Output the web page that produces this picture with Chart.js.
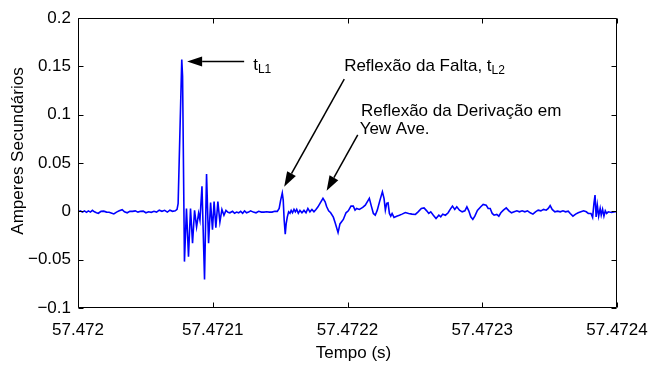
<!DOCTYPE html>
<html>
<head>
<meta charset="utf-8">
<script src="https://cdn.jsdelivr.net/npm/chart.js@4.4.1/dist/chart.umd.min.js"></script>
<style>
  html, body { margin: 0; padding: 0; background: #fff; }
  #wrap { width: 649px; height: 365px; }
</style>
</head>
<body>
<div id="wrap"><canvas id="chart"></canvas></div>
<script>
// time origin (s) and samples as microsecond offsets from it
const T0 = 57.472;

const timeUs = [
  0, 1.8, 3.3, 4.8, 6.3, 7.7, 9.2, 10.7, 12.2, 13.7,
  15.1, 17.1, 19.1, 21.2, 23.1, 25.1, 26.6, 28.6, 30.6, 32.8,
  34.5, 36.5, 38.5, 40.5, 42.5, 44.5, 46.4, 48.4, 50.4, 52.4,
  54.4, 56.4, 58.3, 60.3, 62.3, 64.3, 66.3, 68.2, 70.2, 72.2,
  73.5, 74.3, 77.0, 77.6, 79.0, 80.5, 82.0, 83.5, 85.0, 86.5,
  88.0, 89.5, 90.5, 92.0, 93.9, 95.4, 96.9, 98.4, 99.8, 101.0,
  102.3, 103.8, 105.3, 106.8, 108.3, 109.8, 111.3, 112.7, 114.7, 116.2,
  117.7, 119.2, 120.7, 122.2, 123.6, 125.1, 126.6, 128.1, 130.1, 132.1,
  134.1, 136.1, 138.0, 140.0, 142.0, 144.0, 146.0, 147.9, 149.3, 150.4,
  151.6, 152.3, 153.0, 153.8, 154.5, 155.3, 156.3, 157.3, 158.2, 159.2,
  160.3, 161.3, 162.3, 163.5, 164.7, 166.2, 167.7, 169.2, 170.6, 172.1,
  173.6, 175.1, 176.6, 178.1, 179.6, 181.8, 183.4, 184.5, 186.0, 187.5,
  189.5, 190.9, 193.0, 194.4, 196.9, 198.9, 200.6, 202.6, 204.3, 205.6,
  206.8, 208.8, 211.3, 213.2, 215.2, 216.2, 217.7, 219.2, 220.6, 222.1,
  224.1, 225.9, 227.1, 228.1, 229.1, 230.1, 231.1, 232.1, 233.1, 234.5,
  236.5, 238.5, 240.5, 242.9, 245.4, 247.9, 250.4, 252.4, 254.8, 256.8,
  258.8, 260.3, 261.8, 263.7, 265.7, 267.8, 269.2, 270.7, 272.7, 274.7,
  276.2, 277.9, 279.6, 281.1, 283.1, 285.1, 287.1, 288.6, 290.0, 291.5,
  293.0, 294.5, 296.4, 298.9, 300.7, 302.9, 304.4, 305.9, 307.4, 308.8,
  310.8, 312.3, 313.8, 315.7, 317.8, 319.8, 321.7, 323.7, 325.7, 327.6,
  329.6, 331.6, 333.6, 335.6, 337.6, 339.5, 341.5, 343.5, 345.5, 347.5,
  349.0, 350.4, 351.9, 353.9, 355.9, 357.9, 359.9, 361.8, 363.8, 365.3,
  367.3, 369.3, 371.2, 373.2, 375.2, 377.2, 378.7, 380.7, 381.9, 382.9,
  383.7, 384.5, 385.4, 386.4, 387.5, 388.3, 389.3, 390.3, 391.3, 392.3,
  393.5, 396.0, 398.5, 400.0
];

const amps = [
  -0.0005, 0.0005, -0.0008, 0.0005, -0.001, 0.0005, -0.0008, 0.001, -0.0005, -0.0015,
  -0.002, 0, 0.0002, -0.0008, -0.001, -0.002, -0.0027, -0.0008, 0.0005, 0.0017,
  -0.0005, -0.0015, 0, 0, 0.0005, -0.0008, 0, 0.0002, -0.0015, -0.0005,
  -0.001, 0, -0.0008, 0.0012, 0, 0.001, -0.0008, 0.0012, 0, 0.0005,
  0.002, 0.008, 0.157, 0.14, -0.052, 0.003, -0.047, 0.003, -0.033, 0.001,
  -0.016, -0.002, -0.009, 0.026, -0.0706, 0.0385, -0.033, 0.009, -0.019, 0.010,
  -0.017, 0.010, -0.011, 0.002, -0.004, 0.001, -0.001, -0.0015, 0, -0.002,
  -0.0008, -0.0015, 0, -0.002, 0.0005, -0.0015, -0.0008, 0.0005, -0.0008, -0.0015,
  0, -0.0008, -0.0008, -0.0005, -0.0008, -0.0008, 0, 0, 0.003, 0.0116,
  0.019, 0.0116, -0.009, -0.0236, -0.0126, -0.006, -0.0005, -0.002, 0.001, -0.0015,
  0.002, -0.0005, 0.002, -0.002, 0.001, -0.0015, 0.001, -0.0015, 0.003, -0.0005,
  0.002, -0.0005, 0.002, 0.0047, 0.0082, 0.0134, 0.0098, 0.005, 0.0005, -0.0015,
  -0.006, -0.012, -0.022, -0.013, -0.0084, -0.0015, 0.0005, 0.0054, 0.0054, 0.0012,
  0.003, 0.002, 0.004, 0.0064, 0.011, 0.0134, 0.0054, -0.0022, -0.004, 0.0012,
  0.0116, 0.0202, 0.0134, 0.0012, 0.0082, 0.0088, -0.0022, -0.005, -0.0022, -0.0063,
  -0.005, -0.004, -0.0029, -0.0012, -0.0022, -0.0029, -0.0032, -0.0005, 0.003, 0.0036,
  0.0005, -0.0022, -0.0005, -0.004, -0.0074, -0.004, -0.0057, -0.0029, -0.004, -0.0015,
  0.002, 0.0054, 0.002, 0.0047, 0.0012, -0.0005, 0.0005, 0.0047, 0.0005, -0.0057,
  -0.0084, -0.005, 0.001, 0.0047, 0.0072, 0.0064, 0.003, 0.003, -0.0022, -0.004,
  -0.0032, -0.005, -0.0015, 0.0012, 0.0036, 0.0005, -0.0015, -0.0005, 0.0005, -0.0005,
  0.0005, -0.0005, 0.0005, -0.0015, -0.0029, -0.0005, 0.0012, 0.0005, 0.002, 0.0012,
  0.003, 0.006, 0.002, -0.0005, 0.0002, -0.0005, 0.0005, -0.0005, 0.0002, -0.0022,
  -0.005, -0.0029, -0.0015, -0.0005, 0.0005, -0.0005, -0.0022, -0.0022, -0.0063, 0.0082,
  0.0168, -0.0057, 0.0064, -0.005, 0.003, -0.004, 0.002, -0.005, 0.0005, -0.0022,
  -0.0005, -0.0012, -0.0005, -0.0005
];

const xTicks = [57.472, 57.4721, 57.4722, 57.4723, 57.4724];
const yTicks = [-0.1, -0.05, 0, 0.05, 0.1, 0.15, 0.2];

const xTitle = 'Tempo (s)';
const yTitle = 'Amperes Secundários';

// arrows: [tail t (µs), tail amp, tip t (µs), tip amp]
const arrows = [
  [123.3, 0.155, 81.0, 0.155],
  [197.6, 0.1367, 153.0, 0.0254],
  [207.6, 0.079, 184.5, 0.0212]
];

// notes: [t (µs), amp, text, subscript]
const notes = [
  [130.0, 0.151, 't', 'L1'],
  [197.5, 0.150, 'Reflexão da Falta, t', 'L2'],
  [210.0, 0.103, 'Reflexão da Derivação em', ''],
  [209.0, 0.085, 'Yew Ave.', '']
];

const FONT = '"Liberation Sans", Arial, Helvetica, sans-serif';
const FONT_SIZE = 17;

function fmtNum(v, digits) {
  const s = String(parseFloat(v.toFixed(digits)));
  return s.replace('-', '\u2212');
}

// box with inward ticks, axis titles and annotations
const framePlugin = {
  id: 'frame',
  afterDraw(chart) {
    const { ctx, chartArea: a, scales: { x, y } } = chart;
    const L = a.left + 0.5, R = a.right - 0.5, T = a.top + 0.5, B = a.bottom - 0.5;
    const tick = 5;
    ctx.save();
    ctx.strokeStyle = '#000';
    ctx.lineWidth = 1;
    ctx.beginPath();
    ctx.rect(L, T, R - L, B - T);
    xTicks.forEach(v => {
      const px = Math.round(x.getPixelForValue(v)) + 0.5;
      ctx.moveTo(px, B); ctx.lineTo(px, B - tick);
      ctx.moveTo(px, T); ctx.lineTo(px, T + tick);
    });
    yTicks.forEach(v => {
      const py = Math.round(y.getPixelForValue(v)) + 0.5;
      ctx.moveTo(L, py); ctx.lineTo(L + tick, py);
      ctx.moveTo(R, py); ctx.lineTo(R - tick, py);
    });
    ctx.stroke();

    // axis titles
    ctx.fillStyle = '#000';
    ctx.font = FONT_SIZE + 'px ' + FONT;
    ctx.textAlign = 'center';
    ctx.textBaseline = 'middle';
    ctx.fillText(xTitle, (a.left + a.right) / 2 + 6, 353);
    ctx.save();
    ctx.translate(18, (a.top + a.bottom) / 2 - 12);
    ctx.rotate(-Math.PI / 2);
    ctx.fillText(yTitle, 0, 0);
    ctx.restore();

    // arrows
    const px = t => x.getPixelForValue(T0 + t * 1e-6);
    const py = v => y.getPixelForValue(v);
    arrows.forEach(([t1, v1, t2, v2]) => {
      const x1 = px(t1), y1 = py(v1), x2 = px(t2), y2 = py(v2);
      const ang = Math.atan2(y2 - y1, x2 - x1);
      const len = 15, half = 5;
      const bx = x2 - len * Math.cos(ang), by = y2 - len * Math.sin(ang);
      ctx.beginPath();
      ctx.moveTo(x1, y1);
      ctx.lineTo(bx, by);
      ctx.lineWidth = 1.5;
      ctx.stroke();
      ctx.beginPath();
      ctx.moveTo(x2, y2);
      ctx.lineTo(bx + half * Math.sin(ang), by - half * Math.cos(ang));
      ctx.lineTo(bx - half * Math.sin(ang), by + half * Math.cos(ang));
      ctx.closePath();
      ctx.fill();
    });

    // notes
    ctx.textAlign = 'left';
    notes.forEach(([t, v, text, sub]) => {
      const nx = px(t), ny = py(v);
      ctx.font = FONT_SIZE + 'px ' + FONT;
      ctx.fillText(text, nx, ny);
      if (sub) {
        const w = ctx.measureText(text).width;
        ctx.font = Math.round(FONT_SIZE * 0.7) + 'px ' + FONT;
        ctx.fillText(sub, nx + w, ny + 4);
      }
    });
    ctx.restore();
  }
};

new Chart(document.getElementById('chart'), {
  type: 'line',
  data: {
    datasets: [{
      data: timeUs.map((t, i) => ({ x: T0 + t * 1e-6, y: amps[i] })),
      borderColor: '#0000ff',
      borderWidth: 1.6,
      pointRadius: 0,
      tension: 0,
      fill: false
    }]
  },
  options: {
    responsive: true,
    maintainAspectRatio: false,
    animation: false,
    layout: { padding: { top: 18, right: 32, left: 0, bottom: 0 } },
    plugins: {
      legend: { display: false },
      tooltip: { enabled: false }
    },
    scales: {
      x: {
        type: 'linear',
        min: xTicks[0],
        max: xTicks[xTicks.length - 1],
        afterBuildTicks: s => { s.ticks = xTicks.map(v => ({ value: v })); },
        afterFit: s => { s.height = 57; s.paddingLeft = 0; s.paddingRight = 0; },
        grid: { display: false, drawTicks: false },
        border: { display: false },
        ticks: {
          color: '#000',
          font: { family: FONT, size: FONT_SIZE },
          padding: 12,
          maxRotation: 0,
          autoSkip: false,
          callback: v => fmtNum(v, 4)
        }
      },
      y: {
        type: 'linear',
        min: yTicks[0],
        max: yTicks[yTicks.length - 1],
        afterBuildTicks: s => { s.ticks = yTicks.map(v => ({ value: v })); },
        afterFit: s => { s.width = 78; s.paddingTop = 0; s.paddingBottom = 0; },
        grid: { display: false, drawTicks: false },
        border: { display: false },
        ticks: {
          color: '#000',
          font: { family: FONT, size: FONT_SIZE },
          padding: 7,
          autoSkip: false,
          callback: v => fmtNum(v, 2)
        }
      }
    }
  },
  plugins: [framePlugin]
});
</script>
</body>
</html>
